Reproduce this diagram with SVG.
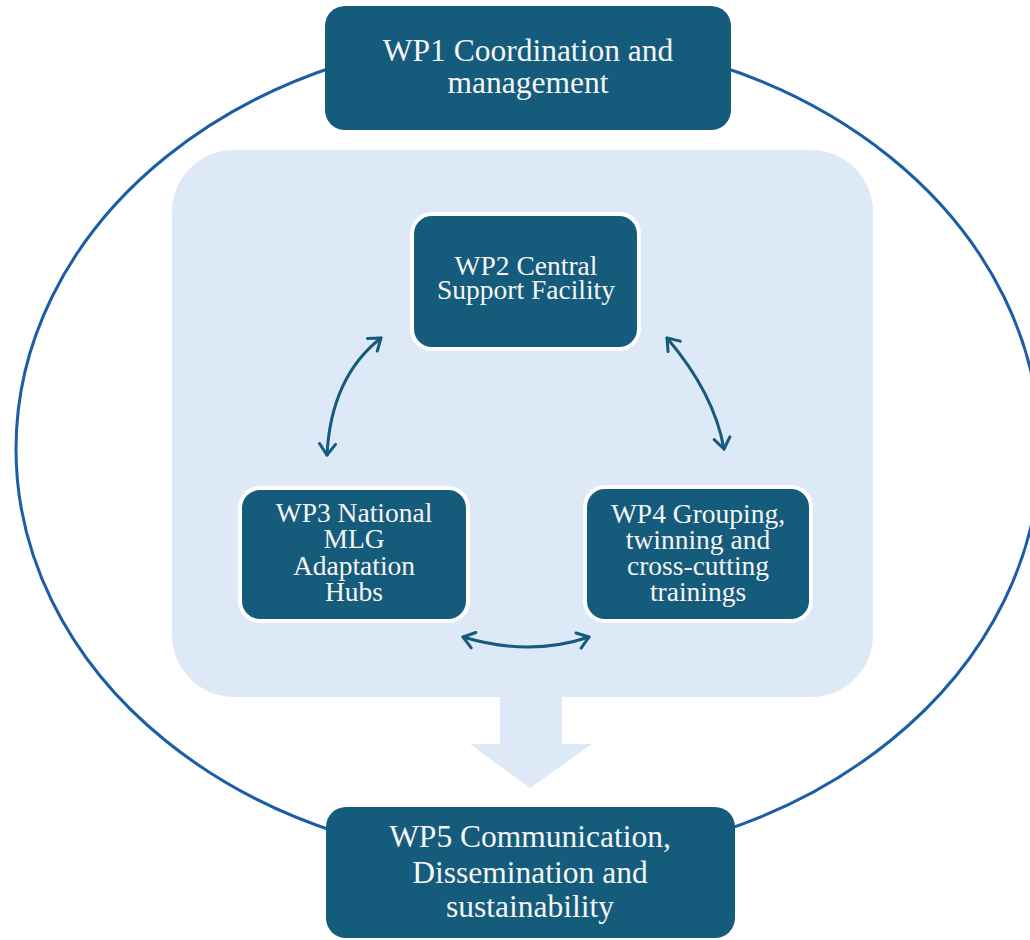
<svg xmlns="http://www.w3.org/2000/svg" width="1030" height="940" viewBox="0 0 1030 940">
<style>
.box{fill:#155b7c;}
.inner{fill:#155b7c;stroke:#ffffff;stroke-width:4;}
.t{font-family:"Liberation Serif","Times New Roman",serif;fill:#f5f5f5;text-anchor:middle;}
.conn{fill:none;stroke:#155b7c;stroke-width:3;stroke-linecap:round;}
</style>
<defs>
<marker id="ah" markerUnits="userSpaceOnUse" markerWidth="30" markerHeight="30" refX="15" refY="15" orient="auto-start-reverse" viewBox="0 0 30 30">
<path d="M4,7 L15,15 L4,23" fill="none" stroke="#155b7c" stroke-width="3" stroke-linecap="round" stroke-linejoin="round"/>
</marker>
</defs>
<rect width="1030" height="940" fill="#ffffff"/>
<ellipse id="cycle" cx="528" cy="449" rx="512" ry="413" fill="none" stroke="#1b5ea6" stroke-width="3"/>
<g id="panel">
<rect x="172" y="150" width="701" height="547" rx="62" fill="#dde9f6"/>
<path d="M500,697 L562,697 L562,744 L592,744 L530,788 L470,744 L500,744 Z" fill="#dde9f6"/>
</g>
<g id="connectors">
<path class="conn" d="M381,338 Q331,377 327,455" marker-start="url(#ah)" marker-end="url(#ah)"/>
<path class="conn" d="M667,338 Q714,393 724,449" marker-start="url(#ah)" marker-end="url(#ah)"/>
<path class="conn" d="M463,637 Q530,657 589,637" marker-start="url(#ah)" marker-end="url(#ah)"/>
</g>
<g id="wp1">
<rect class="box" x="325" y="6" width="406" height="124" rx="20"/>
<text class="t" font-size="31.5"><tspan x="528" y="61">WP1 Coordination and</tspan><tspan x="528" y="93">management</tspan></text>
</g>
<g id="wp2">
<rect class="inner" x="412" y="214" width="227" height="135" rx="20"/>
<text class="t" font-size="27.5"><tspan x="526" y="275">WP2 Central</tspan><tspan x="526" y="299">Support Facility</tspan></text>
</g>
<g id="wp3">
<rect class="inner" x="240" y="488" width="228" height="133" rx="20"/>
<text class="t" font-size="27.5"><tspan x="354" y="522">WP3 National</tspan><tspan x="354" y="548">MLG</tspan><tspan x="354" y="575">Adaptation</tspan><tspan x="354" y="601">Hubs</tspan></text>
</g>
<g id="wp4">
<rect class="inner" x="585" y="487" width="226" height="134" rx="20"/>
<text class="t" font-size="27.5"><tspan x="698" y="523">WP4 Grouping,</tspan><tspan x="698" y="549">twinning and</tspan><tspan x="698" y="575">cross-cutting</tspan><tspan x="698" y="601">trainings</tspan></text>
</g>
<g id="wp5">
<rect class="box" x="326" y="807" width="409" height="131" rx="20"/>
<text class="t" font-size="31.5"><tspan x="530" y="847">WP5 Communication,</tspan><tspan x="530" y="883">Dissemination and</tspan><tspan x="530" y="917">sustainability</tspan></text>
</g>
</svg>
